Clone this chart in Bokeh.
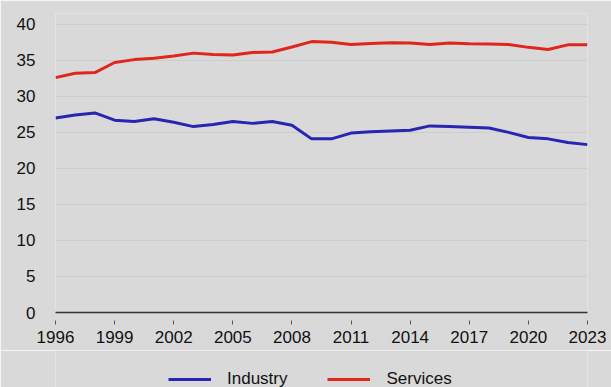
from bokeh.plotting import figure
from bokeh.layouts import column
from bokeh.models import Legend, LegendItem, FixedTicker, Range1d
from bokeh.embed import file_html
from bokeh.resources import INLINE

# Employment shares by sector, percent of total
years = list(range(1996, 2024))
industry = [27.0, 27.4, 27.7, 26.7, 26.5, 26.9, 26.4, 25.8, 26.1, 26.5,
            26.25, 26.5, 26.0, 24.1, 24.1, 24.9, 25.1, 25.2, 25.3, 25.9,
            25.8, 25.7, 25.6, 25.0, 24.3, 24.1, 23.6, 23.3]
services = [32.6, 33.2, 33.3, 34.7, 35.1, 35.3, 35.6, 36.0, 35.8, 35.75,
            36.1, 36.15, 36.85, 37.6, 37.5, 37.2, 37.35, 37.45, 37.4, 37.2,
            37.4, 37.3, 37.25, 37.2, 36.8, 36.5, 37.15, 37.15]
series_names = ["Industry", "Services"]
series_colors = ["#2626b3", "#e0261c"]
x_ticks = list(range(1996, 2024, 3))
y_ticks = list(range(0, 45, 5))

BG = "#d9d9d9"
FONT = "Liberation Sans"

p = figure(width=611, height=350, output_backend="svg", toolbar_location=None,
           x_range=Range1d(1996, 2023), y_range=Range1d(0, 41.5),
           min_border_left=55, min_border_right=24, min_border_top=13,
           min_border_bottom=38)
p.background_fill_color = BG
p.border_fill_color = BG
p.outline_line_color = None

for vals, color in zip([industry, services], series_colors):
    p.line(years, vals, line_color=color, line_width=3)

# grid
p.xgrid.grid_line_color = None
p.ygrid.grid_line_color = "#cdcdcd"
p.ygrid.grid_line_width = 1
p.ygrid.ticker = FixedTicker(ticks=y_ticks)

# x axis: short ticks detached from the axis line
p.xaxis.ticker = FixedTicker(ticks=x_ticks)
p.xaxis.axis_line_color = "#333333"
p.xaxis.axis_line_width = 1.5
p.xaxis.major_tick_line_color = "#555555"
p.xaxis.major_tick_in = -8
p.xaxis.major_tick_out = 12
p.xaxis.minor_tick_line_color = None
p.xaxis.major_label_standoff = 6
p.xaxis.major_label_text_font = FONT
p.xaxis.major_label_text_font_size = "17px"
p.xaxis.major_label_text_color = "#111111"

# y axis
p.yaxis.ticker = FixedTicker(ticks=y_ticks)
p.yaxis.axis_line_color = None
p.yaxis.major_tick_line_color = None
p.yaxis.minor_tick_line_color = None
p.yaxis.major_label_standoff = 14
p.yaxis.major_label_text_font = FONT
p.yaxis.major_label_text_font_size = "17px"
p.yaxis.major_label_text_color = "#111111"

# legend strip underneath the chart; its series lie outside the visible range
lg = figure(width=611, height=37, output_backend="svg", toolbar_location=None,
            x_axis_location=None, y_axis_location=None,
            min_border_left=55, min_border_right=24, min_border_top=0,
            min_border_bottom=0,
            x_range=Range1d(1996, 2023), y_range=Range1d(0, 1))
lg.background_fill_color = BG
lg.background_fill_alpha = 1
lg.border_fill_color = BG
lg.outline_line_color = None
lg.xgrid.visible = False
lg.ygrid.visible = False

items = []
for name, vals, color in zip(series_names, [industry, services], series_colors):
    r = lg.line(years, vals, line_color=color, line_width=3)
    items.append(LegendItem(label=name, renderers=[r]))

legend = Legend(items=items, orientation="horizontal", location=(113, -2),
                padding=0, margin=0, spacing=40, glyph_width=43,
                label_standoff=16, border_line_color=None,
                background_fill_alpha=0)
legend.label_text_font = FONT
legend.label_text_font_size = "17px"
legend.label_text_color = "#111111"
lg.add_layout(legend, "center")

layout = column(p, lg, spacing=0)
open("out.html", "w").write(file_html(layout, INLINE))
